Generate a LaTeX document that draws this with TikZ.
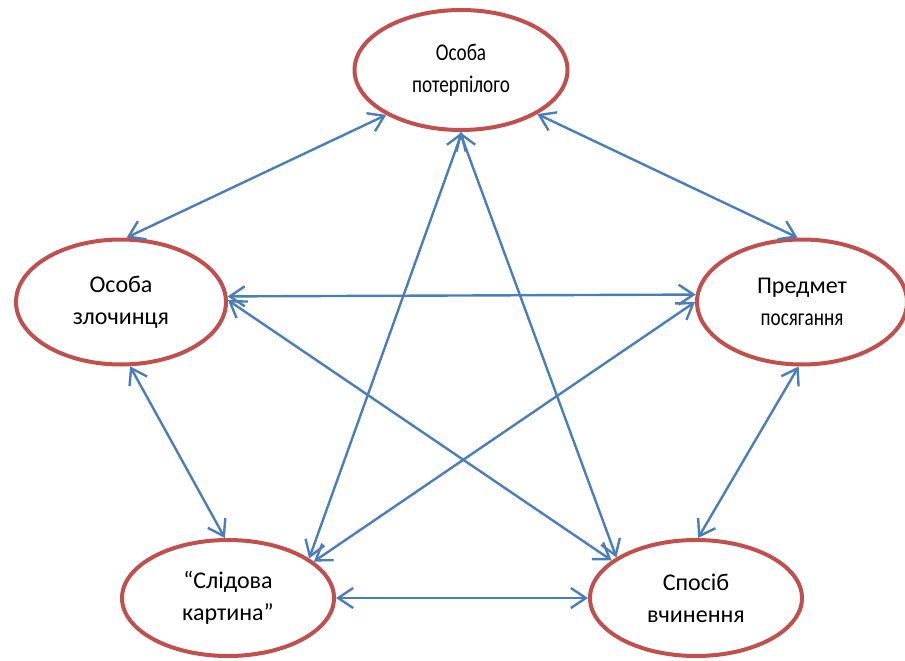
\documentclass[tikz,border=0pt]{standalone}
\usepackage{fontspec}
\setmainfont{Carlito}
\usepackage{graphicx}
\usetikzlibrary{arrows.meta,shapes.geometric}
\definecolor{ellred}{HTML}{C0504D}
\definecolor{arrblue}{HTML}{4A7EBB}
\newcommand{\cond}[1]{\scalebox{0.8}[1]{#1}}
\begin{document}
\begin{tikzpicture}[x=1pt,y=-1pt,
  oval/.style={ellipse,draw=ellred,line width=4pt,fill=white,align=center,
    inner sep=0pt,font=\fontsize{24}{32}\selectfont},
  link/.style={draw=arrblue,line width=2.4pt,
    {Straight Barb[length=15pt,width=20pt]}-{Straight Barb[length=15pt,width=20pt]}}]
\useasboundingbox (0,0) rectangle (905,661);
\node[oval,minimum width=213pt,minimum height=120pt] (top) at (461,70) {\cond{Особа}\\\cond{потерпілого}};
\node[oval,minimum width=210pt,minimum height=125pt] (left) at (121,302) {Особа\\злочинця};
\node[oval,minimum width=210pt,minimum height=125pt] (right) at (802,302) {Предмет\\\cond{посягання}};
\node[oval,minimum width=212pt,minimum height=116pt] (bl) at (228,598) {“Слідова\\картина”};
\node[oval,minimum width=212pt,minimum height=116pt] (br) at (696,598) {Спосіб\\вчинення};
\draw[link] (top.211) -- (left.85);
\draw[link] (top.330) -- (right.94);
\draw[link] (top.271) -- (bl.26);
\draw[link] (top.269) -- (br.153);
\draw[link] (left.3.6) -- (right.176.4);
\draw[link] (left.1) -- (br.156);
\draw[link] (right.180) -- (bl.23);
\draw[link] (left.278) -- (bl.93);
\draw[link] (right.267) -- (br.88);
\draw[link] (bl.0) -- (br.180);
\end{tikzpicture}
\end{document}
